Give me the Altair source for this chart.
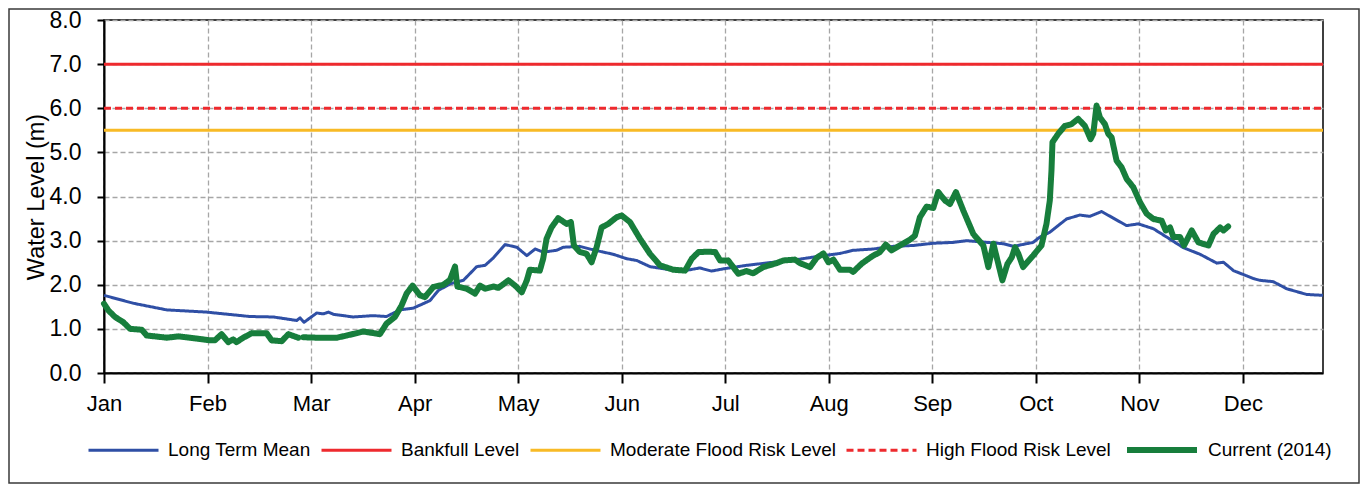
import json
import altair as alt
import pandas as pd

# ---------------- data ----------------
months = ["Jan", "Feb", "Mar", "Apr", "May", "Jun", "Jul", "Aug", "Sep", "Oct", "Nov", "Dec"]
month_ticks = [i * 31 for i in range(12)]
y_ticks = [0, 1, 2, 3, 4, 5, 6, 7, 8]

series_names = ["Long Term Mean", "Bankfull Level", "Moderate Flood Risk Level",
                "High Flood Risk Level", "Current (2014)"]
series_colors = ["#2F4FA5", "#EE2A2E", "#F8BA26", "#EE2A2E", "#177E3C"]
series_dash = [[1, 0], [1, 0], [1, 0], [7, 4], [1, 0]]
series_width = [3, 3, 3, 3, 6]

bankfull_level = 7.0
moderate_level = 5.5
high_level = 6.0
year_span = [0, 365]

mean_day = [0, 8.8, 18.8, 30.7, 43.7, 50.7, 57.7, 58.7, 59.9, 63.7, 65.7, 67.2, 68.7, 74.6,
            80.6, 84.6, 88.6, 92.6, 97.6, 100.1, 103.6, 107.6, 111.6, 114.1, 116.6, 120.1,
            123.6, 126.6, 129.1, 131.5, 135.5, 137.5, 142.5, 145.5, 149.5, 152.5, 156.5,
            159.5, 163.5, 169.5, 172.5, 175.4, 178.4, 181.9, 185.4, 192.4, 200.4, 207.4,
            215.4, 220.4, 224.3, 230.3, 236.3, 242.3, 248.3, 254.3, 258.3, 264.3, 269.3,
            272.3, 278.2, 280.2, 283.2, 288.2, 292.2, 295.2, 298.7, 302.2, 306.2, 309.7,
            314.2, 318.2, 323.2, 328.2, 333.2, 335.2, 338.2, 344.2, 346.1, 350.1, 354.1,
            360.1, 365]
mean_level = [1.76, 1.58, 1.43, 1.38, 1.28, 1.27, 1.19, 1.25, 1.15, 1.36, 1.34, 1.38, 1.33, 1.27,
              1.30, 1.28, 1.43, 1.47, 1.64, 1.87, 2.02, 2.10, 2.41, 2.44, 2.61, 2.91,
              2.85, 2.66, 2.81, 2.74, 2.78, 2.85, 2.87, 2.81, 2.74, 2.69, 2.59,
              2.55, 2.41, 2.34, 2.32, 2.34, 2.38, 2.31, 2.36, 2.44, 2.51, 2.57,
              2.66, 2.71, 2.78, 2.81, 2.87, 2.89, 2.94, 2.96, 3.00, 2.96, 2.93,
              2.87, 2.96, 3.08, 3.19, 3.49, 3.58, 3.55, 3.66, 3.51, 3.34, 3.38,
              3.27, 3.08, 2.84, 2.69, 2.49, 2.51, 2.32, 2.14, 2.10, 2.07, 1.91,
              1.78, 1.76]

# current year, first stretch (Jan - end of Feb)
cur1_day = [0, 1.3, 3.3, 5.8, 7.8, 11.3, 12.8, 18.8, 22.3, 27.8, 31.7, 33.2, 35.2, 37.2,
            38.7, 39.7, 41.7, 44.2, 48.7, 50.2, 53.2, 55.2, 58.2]
cur1_level = [1.57, 1.42, 1.27, 1.15, 1.00, 0.98, 0.85, 0.80, 0.83, 0.78, 0.74, 0.74, 0.88, 0.70,
              0.76, 0.70, 0.80, 0.90, 0.90, 0.74, 0.72, 0.88, 0.80]

# current year, second stretch (Mar - late Nov)
cur2_day = [59.7, 63.7, 66.7, 69.7, 72.7, 77.7, 82.6, 84.6, 87.1, 89.1, 90.6, 92.4, 94.6,
            96.1, 98.6, 101.6, 103.6, 105.1, 105.8, 108.6, 111.1, 112.6, 114.1, 116.6,
            118.1, 121.1, 123.1, 125.1, 126.6, 127.5, 130.5, 131.5, 132.5, 134.0, 136.0,
            138.5, 139.8, 140.7, 142.5, 144.5, 146.0, 147.5, 149.0, 151.0, 153.5, 155.0,
            157.5, 160.5, 163.5, 166.5, 170.5, 174.0, 176.0, 178.0, 181.0, 183.0, 184.5,
            186.9, 189.9, 192.4, 194.4, 197.4, 201.4, 203.4, 206.9, 208.4, 211.4, 213.4,
            215.4, 216.9, 218.4, 220.4, 223.4, 224.3, 226.9, 229.9, 232.3, 234.1, 235.8,
            238.3, 241.3, 242.8, 244.3, 246.3, 248.3, 249.8, 251.8, 253.3, 255.1, 257.3,
            260.3, 263.3, 264.8, 266.3, 269.0, 270.5, 271.8, 272.8, 273.8, 275.2, 278.2,
            280.7, 282.2, 283.2, 283.7, 284.0, 285.7, 287.7, 289.7, 291.7, 293.7, 295.4,
            296.2, 297.2, 298.2, 299.7, 300.7, 301.7, 303.2, 304.7, 306.2, 308.2, 310.2,
            312.2, 314.2, 316.7, 317.9, 319.2, 320.2, 322.2, 323.4, 325.7, 327.7, 330.7,
            332.2, 334.2, 335.2, 336.6]
cur2_level = [0.81, 0.80, 0.80, 0.80, 0.85, 0.94, 0.88, 1.12, 1.27, 1.53, 1.80, 1.98, 1.76,
              1.72, 1.95, 2.00, 2.11, 2.41, 1.96, 1.91, 1.80, 1.98, 1.91, 1.96,
              1.93, 2.10, 1.98, 1.83, 2.10, 2.34, 2.32, 2.59, 3.04, 3.30, 3.51,
              3.38, 3.42, 2.89, 2.74, 2.70, 2.51, 2.85, 3.30, 3.38, 3.53, 3.57,
              3.42, 3.04, 2.70, 2.44, 2.34, 2.32, 2.59, 2.74, 2.75, 2.74, 2.55,
              2.55, 2.25, 2.31, 2.26, 2.40, 2.49, 2.55, 2.57, 2.49, 2.40, 2.61,
              2.71, 2.51, 2.57, 2.34, 2.34, 2.29, 2.48, 2.64, 2.74, 2.91, 2.78,
              2.89, 3.02, 3.11, 3.53, 3.77, 3.74, 4.10, 3.91, 3.83, 4.10, 3.68,
              3.15, 2.89, 2.40, 2.93, 2.10, 2.47, 2.62, 2.85, 2.70, 2.40, 2.66,
              2.89, 3.38, 3.91, 4.59, 5.23, 5.42, 5.60, 5.64, 5.76, 5.60, 5.30,
              5.42, 6.06, 5.79, 5.64, 5.42, 5.34, 4.81, 4.66, 4.40, 4.21, 3.87,
              3.61, 3.49, 3.45, 3.23, 3.30, 3.08, 3.08, 2.89, 3.23, 2.96, 2.89,
              3.15, 3.30, 3.23, 3.32]

# ---------------- tables ----------------
rows = []
for d, v in zip(mean_day, mean_level):
    rows.append({"day": d, "level": v, "series": series_names[0], "seg": 0})
for name, lvl in [(series_names[1], bankfull_level), (series_names[2], moderate_level),
                  (series_names[3], high_level)]:
    for d in year_span:
        rows.append({"day": d, "level": lvl, "series": name, "seg": 0})
base_df = pd.DataFrame(rows)

cur_rows = []
for d, v in zip(cur1_day, cur1_level):
    cur_rows.append({"day": d, "level": v, "series": series_names[4], "seg": 1})
for d, v in zip(cur2_day, cur2_level):
    cur_rows.append({"day": d, "level": v, "series": series_names[4], "seg": 2})
cur_df = pd.DataFrame(cur_rows)

# ---------------- encodings ----------------
FONT = "Liberation Sans"
month_expr = json.dumps(months) + "[round(datum.value / 31)]"

legend = alt.Legend(
    title=None, orient="none", direction="horizontal", legendX=-17, legendY=392,
    symbolType="stroke", symbolSize=4900, labelFont=FONT, labelFontSize=19,
    labelColor="black", labelOffset=8, columnPadding=4, labelLimit=400,
)

x_enc = alt.X(
    "day:Q",
    scale=alt.Scale(domain=year_span, nice=False, zero=False),
    axis=alt.Axis(values=month_ticks, labelExpr=month_expr, title=None, labelFlush=False,
                  tickSize=10, labelPadding=10, labelFontSize=22),
)
y_enc = alt.Y(
    "level:Q",
    scale=alt.Scale(domain=[0, 8], nice=False),
    axis=alt.Axis(values=y_ticks, format=".1f", title="Water Level (m)", labelFlush=False,
                  tickSize=7, labelPadding=16, labelFontSize=23,
                  titleFontSize=23.5, titleFontWeight="normal", titleFont=FONT,
                  titleColor="black", titlePadding=1),
)
color_enc = alt.Color("series:N", scale=alt.Scale(domain=series_names, range=series_colors),
                      legend=legend)
dash_enc = alt.StrokeDash("series:N", scale=alt.Scale(domain=series_names, range=series_dash),
                          legend=legend)
width_enc = alt.StrokeWidth("series:N",
                            scale=alt.Scale(type="ordinal", domain=series_names, range=series_width),
                            legend=legend)

base_lines = alt.Chart(base_df).mark_line(strokeJoin="round", strokeCap="butt").encode(
    x=x_enc, y=y_enc, color=color_enc, strokeDash=dash_enc, strokeWidth=width_enc,
    detail="seg:N",
)
cur_lines = alt.Chart(cur_df).mark_line(strokeJoin="round", strokeCap="round").encode(
    x=x_enc, y=y_enc, color=color_enc, strokeDash=dash_enc, strokeWidth=width_enc,
    detail="seg:N",
)
frame = alt.Chart(pd.DataFrame({"k": [0]})).mark_rect(
    fillOpacity=0, stroke="#3a3a3a", strokeWidth=1.5
).encode(
    x=alt.value(-95), x2=alt.value(1255), y=alt.value(-11), y2=alt.value(463)
)

chart = alt.layer(base_lines, cur_lines, frame).properties(
    width=1219, height=353,
    autosize=alt.AutoSizeParams(type="none"),
    padding={"left": 96, "top": 12, "right": 37, "bottom": 111},
    background="white",
).configure_view(
    stroke="black", strokeWidth=1.5
).configure_axis(
    gridColor="#A6A6A6", gridDash=[5, 3], gridWidth=1.3,
    domainColor="black", domainWidth=2, tickColor="black", tickWidth=2,
    labelFont=FONT, labelColor="black",
)

chart.save("out.html", embed_options={"renderer": "svg", "actions": False})
